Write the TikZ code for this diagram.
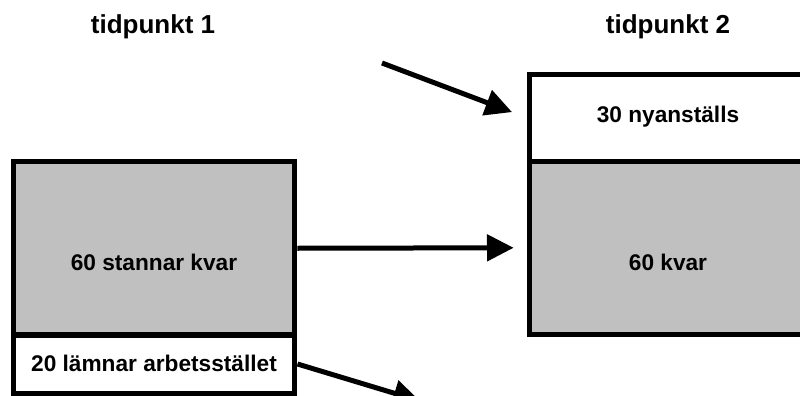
\documentclass[tikz,border=0pt]{standalone}
\usepackage{fontspec}
\setmainfont{Liberation Sans}
\usetikzlibrary{arrows.meta}
\definecolor{cellgray}{RGB}{192,192,192}
\tikzset{
  cell/.style={draw, line width=3.75pt, inner sep=0pt},
  celltext/.style={font=\fontsize{17}{20}\selectfont\bfseries},
  title/.style={font=\fontsize{19.5}{23}\selectfont\bfseries},
  flow/.style={line width=3.75pt, -{Triangle[length=20pt, width=19.5pt]}}
}
\begin{document}
\begin{tikzpicture}[x=0.75pt, y=-0.75pt]
\useasboundingbox (0,0) rectangle (800,396);
\clip (0,0) rectangle (800,396);
% tidpunkt 1
\node[title] (t1) at (153,27) {tidpunkt 1};
\node[cell, fill=cellgray, minimum width=211.1pt, minimum height=130.1pt] (stay) at (154.25,248.25) {};
\node[cell, fill=white, minimum width=211.1pt, minimum height=43.5pt] (leave) at (154.25,364) {};
\node[celltext] at (154,262) {60 stannar kvar};
\node[celltext] at (154,363) {20 lämnar arbetsstället};
% tidpunkt 2
\node[title] (t2) at (668,27) {tidpunkt 2};
\node[cell, fill=white, minimum width=207.75pt, minimum height=64.9pt] (new) at (668,117.75) {};
\node[cell, fill=cellgray, minimum width=207.75pt, minimum height=130.1pt] (kvar) at (668,247.75) {};
\node[celltext] at (668,117) {30 nyanställs};
\node[celltext] at (668,262) {60 kvar};
% flows
\coordinate (hire) at (382,63);
\coordinate (quit) at (420,401);
\draw[flow, shorten >=12pt] (hire) -- (new.west);
\draw[flow, shorten >=10pt] (stay.east) -- (kvar.west);
\draw[flow] (leave.east) -- (quit);
\end{tikzpicture}
\end{document}
